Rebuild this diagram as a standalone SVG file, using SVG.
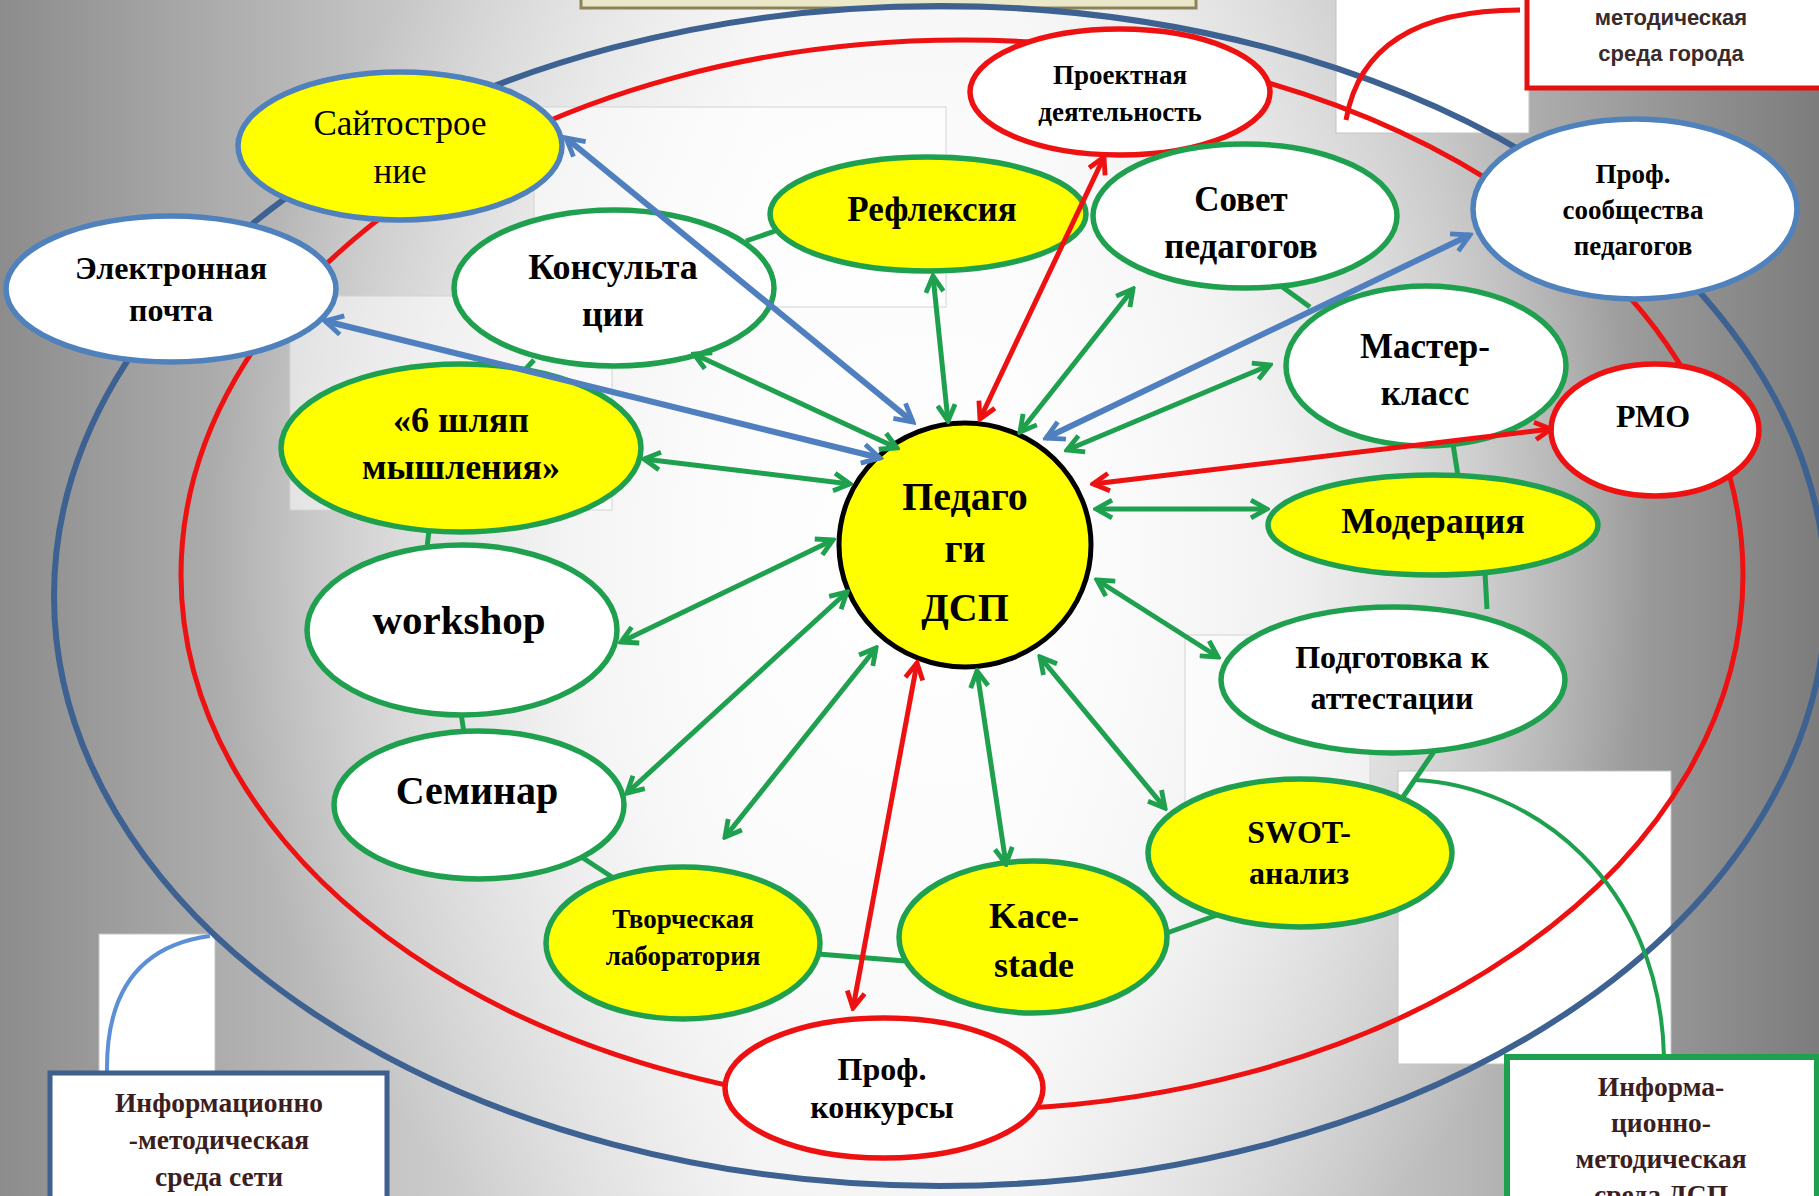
<svg xmlns="http://www.w3.org/2000/svg" width="1819" height="1196" viewBox="0 0 1819 1196">
<defs>
<linearGradient id="bgH" x1="0" y1="0" x2="1" y2="0">
<stop offset="0" stop-color="#8c8c8c"/>
<stop offset="0.2" stop-color="#c2c2c2"/>
<stop offset="0.42" stop-color="#f0f0f0"/>
<stop offset="0.56" stop-color="#f0f0f0"/>
<stop offset="0.8" stop-color="#bababa"/>
<stop offset="1" stop-color="#7c7c7c"/>
</linearGradient>
<radialGradient id="bgR" gradientUnits="userSpaceOnUse" cx="930" cy="560" r="720" gradientTransform="translate(930 560) scale(1 1.15) translate(-930 -560)">
<stop offset="0" stop-color="#ffffff" stop-opacity="1"/>
<stop offset="0.5" stop-color="#ffffff" stop-opacity="0.7"/>
<stop offset="1" stop-color="#ffffff" stop-opacity="0"/>
</radialGradient>
<marker id="ag" viewBox="0 0 10 10" refX="8.5" refY="5" markerWidth="4.4" markerHeight="4.4" orient="auto-start-reverse" markerUnits="strokeWidth">
<path d="M1.2,1 L8.5,5 L1.2,9" fill="none" stroke="#1fa04e" stroke-width="2.2" stroke-linejoin="miter"/>
</marker>
<marker id="ab" viewBox="0 0 10 10" refX="8.5" refY="5" markerWidth="4" markerHeight="4" orient="auto-start-reverse" markerUnits="strokeWidth">
<path d="M1.2,1 L8.5,5 L1.2,9" fill="none" stroke="#4f7fbe" stroke-width="2" stroke-linejoin="miter"/>
</marker>
<marker id="ar" viewBox="0 0 10 10" refX="8.5" refY="5" markerWidth="4.4" markerHeight="4.4" orient="auto-start-reverse" markerUnits="strokeWidth">
<path d="M1.2,1 L8.5,5 L1.2,9" fill="none" stroke="#ee1111" stroke-width="2.2" stroke-linejoin="miter"/>
</marker>
<style>
.y{fill:#ffff00}
.w{fill:#ffffff}
.g{stroke:#1fa04e;stroke-width:5.5}
.b{stroke:#4f81bd;stroke-width:5.5}
.r{stroke:#ee1111;stroke-width:5.5}
.k{stroke:#000000;stroke-width:5}
.t{font-family:"Liberation Serif","Times New Roman",serif;font-weight:bold;fill:#000;text-anchor:middle}
.tr{font-family:"Liberation Serif","Times New Roman",serif;font-weight:normal;fill:#000;text-anchor:middle}
.bx{font-family:"Liberation Serif","Times New Roman",serif;font-weight:bold;fill:#3c1e1e;text-anchor:middle;font-size:27.5px}
.bs{font-family:"Liberation Sans",Arial,sans-serif;font-weight:bold;fill:#3a2a2a;text-anchor:middle;font-size:22px}
.lnk{stroke:#1fa04e;stroke-width:5;fill:none}
.cg{stroke:#1fa04e;stroke-width:5;fill:none;marker-start:url(#ag);marker-end:url(#ag)}
.cb{stroke:#4f7fbe;stroke-width:6;fill:none;marker-start:url(#ab);marker-end:url(#ab)}
.cr{stroke:#ee1111;stroke-width:5;fill:none;marker-start:url(#ar);marker-end:url(#ar)}
.wr{fill:#ffffff;stroke:#c4c4c4;stroke-width:1}
.wf{fill:#ffffff;fill-opacity:0.55;stroke:#d4d4d4;stroke-width:1}
</style>
</defs>

<g id="background">
<rect x="0" y="0" width="1819" height="1196" fill="url(#bgH)"/>
<rect x="0" y="0" width="1819" height="1196" fill="url(#bgR)"/>
<rect class="wf" x="534" y="107" width="412" height="200"/>
<rect class="wf" x="290" y="296" width="322" height="214"/>
<rect class="wf" x="1185" y="635" width="185" height="260"/>
<rect class="wr" x="1336" y="-2" width="193" height="135"/>
<rect class="wr" x="1398" y="771" width="273" height="293"/>
<rect class="wr" x="99" y="934" width="116" height="139"/>
<rect x="581" y="-20" width="615" height="28" fill="#ebe7c9" stroke="#8a8458" stroke-width="3"/>
<ellipse cx="940" cy="596" rx="886" ry="590" fill="none" stroke="#3d6191" stroke-width="6"/>
<ellipse cx="962" cy="575" rx="781" ry="535" fill="none" stroke="#ee1111" stroke-width="5"/>
<path d="M1346 120 Q1365 10 1520 10" fill="none" stroke="#ee1111" stroke-width="5"/>
<path d="M107 1073 Q105 950 210 936" fill="none" stroke="#5b8fd6" stroke-width="4"/>
<path d="M1415 780 C1530 785 1660 880 1664 1057" fill="none" stroke="#1fa04e" stroke-width="4"/>
</g>

<g id="links">
<line class="lnk" x1="746" y1="241" x2="778" y2="230"/>
<line class="lnk" x1="534" y1="360" x2="522" y2="373"/>
<line class="lnk" x1="429" y1="530" x2="427" y2="548"/>
<line class="lnk" x1="461" y1="713" x2="464" y2="733"/>
<line class="lnk" x1="583" y1="858" x2="615" y2="879"/>
<line class="lnk" x1="818" y1="954" x2="905" y2="961"/>
<line class="lnk" x1="1164" y1="934" x2="1220" y2="914"/>
<line class="lnk" x1="1435" y1="750" x2="1403" y2="797"/>
<line class="lnk" x1="1485" y1="573" x2="1487" y2="609"/>
<line class="lnk" x1="1453" y1="444" x2="1458" y2="476"/>
<line class="lnk" x1="1281" y1="286" x2="1310" y2="307"/>
</g>

<g id="n-sait"><ellipse class="y b" cx="400" cy="146" rx="162" ry="74"/>
<text class="tr" font-size="35" x="400" y="135">Сайтострое</text><text class="tr" font-size="35" x="400" y="183">ние</text></g>
<g id="n-email"><ellipse class="w b" cx="171" cy="289" rx="165" ry="73"/>
<text class="t" font-size="32" x="171" y="279">Электронная</text><text class="t" font-size="32" x="171" y="321">почта</text></g>
<g id="n-kons"><ellipse class="w g" cx="614" cy="288" rx="160" ry="78"/>
<text class="t" font-size="36" x="613" y="279">Консульта</text><text class="t" font-size="36" x="613" y="326">ции</text></g>
<g id="n-refl"><ellipse class="y g" cx="928" cy="214" rx="158" ry="57"/>
<text class="t" font-size="35" x="932" y="221">Рефлексия</text></g>
<g id="n-proekt"><ellipse class="w r" cx="1120" cy="92" rx="150" ry="63"/>
<text class="t" font-size="27" x="1120" y="84">Проектная</text><text class="t" font-size="27" x="1120" y="121">деятельность</text></g>
<g id="n-sovet"><ellipse class="w g" cx="1245" cy="216" rx="152" ry="72"/>
<text class="t" font-size="35" x="1241" y="211">Совет</text><text class="t" font-size="35" x="1241" y="258">педагогов</text></g>
<g id="n-prof-soob"><ellipse class="w b" cx="1635" cy="209" rx="162" ry="90"/>
<text class="t" font-size="27" x="1633" y="183">Проф.</text><text class="t" font-size="27" x="1633" y="219">сообщества</text><text class="t" font-size="27" x="1633" y="255">педагогов</text></g>
<g id="n-master"><ellipse class="w g" cx="1426" cy="366" rx="140" ry="80"/>
<text class="t" font-size="35" x="1425" y="358">Мастер-</text><text class="t" font-size="35" x="1425" y="405">класс</text></g>
<g id="n-rmo"><ellipse class="w r" cx="1655" cy="430" rx="104" ry="66"/>
<text class="t" font-size="32" x="1653" y="427">РМО</text></g>
<g id="n-moder"><ellipse class="y g" cx="1433" cy="525" rx="165" ry="50"/>
<text class="t" font-size="36" x="1433" y="533">Модерация</text></g>
<g id="n-center"><ellipse class="y k" cx="965" cy="545" rx="126" ry="122"/>
<text class="t" font-size="40" x="965" y="510">Педаго</text><text class="t" font-size="40" x="965" y="562">ги</text><text class="t" font-size="40" x="965" y="621">ДСП</text></g>
<g id="n-6hats"><ellipse class="y g" cx="461" cy="448" rx="180" ry="84"/>
<text class="t" font-size="36" x="461" y="432">«6 шляп</text><text class="t" font-size="36" x="461" y="479">мышления»</text></g>
<g id="n-workshop"><ellipse class="w g" cx="462" cy="630" rx="155" ry="85"/>
<text class="t" font-size="41" x="459" y="634">workshop</text></g>
<g id="n-seminar"><ellipse class="w g" cx="479" cy="805" rx="145" ry="74"/>
<text class="t" font-size="40" x="477" y="804">Семинар</text></g>
<g id="n-tvorch"><ellipse class="y g" cx="683" cy="943" rx="137" ry="76"/>
<text class="t" font-size="27" x="683" y="928">Творческая</text><text class="t" font-size="27" x="683" y="965">лаборатория</text></g>
<g id="n-kace"><ellipse class="y g" cx="1033" cy="937" rx="134" ry="76"/>
<text class="t" font-size="36" x="1034" y="928">Kace-</text><text class="t" font-size="36" x="1034" y="977">stade</text></g>
<g id="n-swot"><ellipse class="y g" cx="1300" cy="853" rx="152" ry="74"/>
<text class="t" font-size="32" x="1299" y="843">SWOT-</text><text class="t" font-size="32" x="1299" y="884">анализ</text></g>
<g id="n-podgot"><ellipse class="w g" cx="1393" cy="680" rx="172" ry="73"/>
<text class="t" font-size="32" x="1392" y="668">Подготовка к</text><text class="t" font-size="32" x="1392" y="709">аттестации</text></g>
<g id="n-konk"><ellipse class="w r" cx="884" cy="1088" rx="159" ry="70"/>
<text class="t" font-size="32" x="882" y="1080">Проф.</text><text class="t" font-size="32" x="882" y="1118">конкурсы</text></g>

<g id="box-city"><rect x="1527" y="-10" width="300" height="98" fill="#ffffff" stroke="#e41111" stroke-width="5"/>
<text class="bs" x="1671" y="25">методическая</text><text class="bs" x="1671" y="61">среда города</text></g>
<g id="box-net"><rect x="50" y="1073" width="337" height="140" fill="#ffffff" stroke="#3f5f8f" stroke-width="5"/>
<text class="bx" x="219" y="1112">Информационно</text><text class="bx" x="219" y="1149">-методическая</text><text class="bx" x="219" y="1186">среда сети</text></g>
<g id="box-dsp"><rect x="1507" y="1057" width="310" height="160" fill="#ffffff" stroke="#1fa04e" stroke-width="6"/>
<text class="bx" x="1661" y="1096">Информа-</text><text class="bx" x="1661" y="1132">ционно-</text><text class="bx" x="1661" y="1168">методическая</text><text class="bx" x="1661" y="1204">среда ДСП</text></g>

<g id="connectors">
<line class="cb" x1="566" y1="138" x2="913" y2="422"/>
<line class="cb" x1="325" y1="321" x2="880" y2="458"/>
<line class="cb" x1="1470" y1="235" x2="1046" y2="438"/>
<line class="cg" x1="694" y1="354" x2="897" y2="448"/>
<line class="cg" x1="644" y1="459" x2="850" y2="484"/>
<line class="cg" x1="933" y1="276" x2="948" y2="421"/>
<line class="cg" x1="1133" y1="289" x2="1020" y2="432"/>
<line class="cg" x1="1270" y1="365" x2="1067" y2="450"/>
<line class="cg" x1="1096" y1="509" x2="1267" y2="509"/>
<line class="cg" x1="1097" y1="580" x2="1218" y2="657"/>
<line class="cg" x1="1040" y1="657" x2="1165" y2="808"/>
<line class="cg" x1="977" y1="671" x2="1006" y2="864"/>
<line class="cg" x1="876" y1="648" x2="725" y2="837"/>
<line class="cg" x1="847" y1="592" x2="627" y2="793"/>
<line class="cg" x1="833" y1="540" x2="621" y2="642"/>
<line class="cr" x1="1104" y1="157" x2="980" y2="419"/>
<line class="cr" x1="1551" y1="429" x2="1093" y2="484"/>
<line class="cr" x1="917" y1="663" x2="853" y2="1008"/>
</g>
</svg>
